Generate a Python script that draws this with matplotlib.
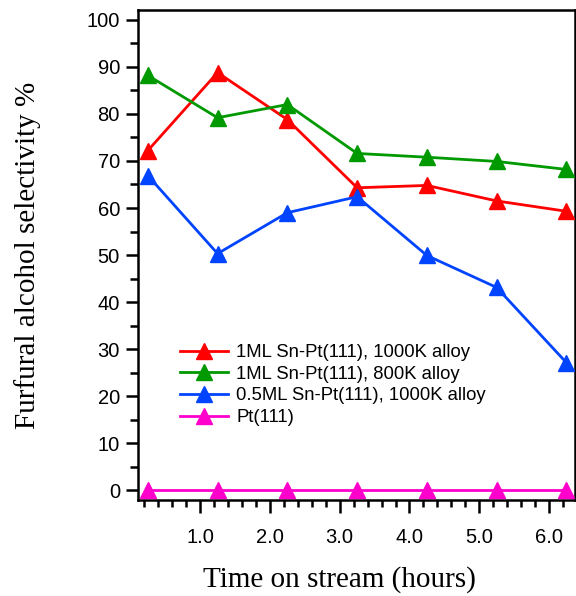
import matplotlib.pyplot as plt
from matplotlib.ticker import MultipleLocator, FormatStrFormatter

# Dados
horas = [0.25, 1.25, 2.25, 3.25, 4.25, 5.25, 6.25]
sn1_1000k = [72.2, 88.8, 78.8, 64.3, 64.8, 61.5, 59.3]
sn1_800k = [88.2, 79.2, 82.0, 71.6, 70.8, 69.9, 68.2]
sn05_1000k = [66.9, 50.3, 59.0, 62.4, 49.9, 43.1, 27.1]
pt111 = [0, 0, 0, 0, 0, 0, 0]

series = [
    ("1ML Sn-Pt(111), 1000K alloy", sn1_1000k, "#ff0000"),
    ("1ML Sn-Pt(111), 800K alloy", sn1_800k, "#009900"),
    ("0.5ML Sn-Pt(111), 1000K alloy", sn05_1000k, "#0044ff"),
    ("Pt(111)", pt111, "#ff00cc"),
]

fig = plt.figure(figsize=(5.76, 5.96), dpi=100)
ax = fig.add_axes([0.2396, 0.161, 0.7584, 0.8222])

for nome, valores, cor in series:
    ax.plot(horas, valores, color=cor, lw=2.0, marker='^', markersize=11,
            label=nome, clip_on=False, zorder=3)

ax.set_xlim(0.11, 6.37)
ax.set_ylim(-2.1, 102.1)

ax.xaxis.set_major_locator(MultipleLocator(1.0))
ax.xaxis.set_minor_locator(MultipleLocator(0.2))
ax.xaxis.set_major_formatter(FormatStrFormatter('%.1f'))
ax.yaxis.set_major_locator(MultipleLocator(10))
ax.yaxis.set_minor_locator(MultipleLocator(5))

for s in ax.spines.values():
    s.set_linewidth(1.8)

ax.tick_params(axis='both', which='major', direction='out', width=1.8,
               labelsize=14.5, labelfontfamily='Liberation Sans')
ax.tick_params(axis='x', which='major', length=9, pad=11)
ax.tick_params(axis='x', which='minor', direction='out', length=5, width=1.8)
ax.tick_params(axis='y', which='major', length=9, pad=4)
ax.tick_params(axis='y', which='minor', direction='out', length=6, width=1.8)

ax.set_xlabel("Time on stream (hours)", fontsize=21, family='Liberation Serif')
ax.xaxis.set_label_coords(0.462, -0.135)
ax.set_ylabel("Furfural alcohol selectivity %", fontsize=21,
              family='Liberation Serif')
ax.yaxis.set_label_coords(-0.222, 0.5)

ax.legend(loc='upper left', bbox_to_anchor=(0.096, 0.318), frameon=False,
          prop={'family': 'Liberation Sans', 'size': 13.3}, handlelength=2.6,
          handletextpad=0.45, labelspacing=0.25, borderpad=0,
          borderaxespad=0)

fig.savefig("out.png", dpi=100)
